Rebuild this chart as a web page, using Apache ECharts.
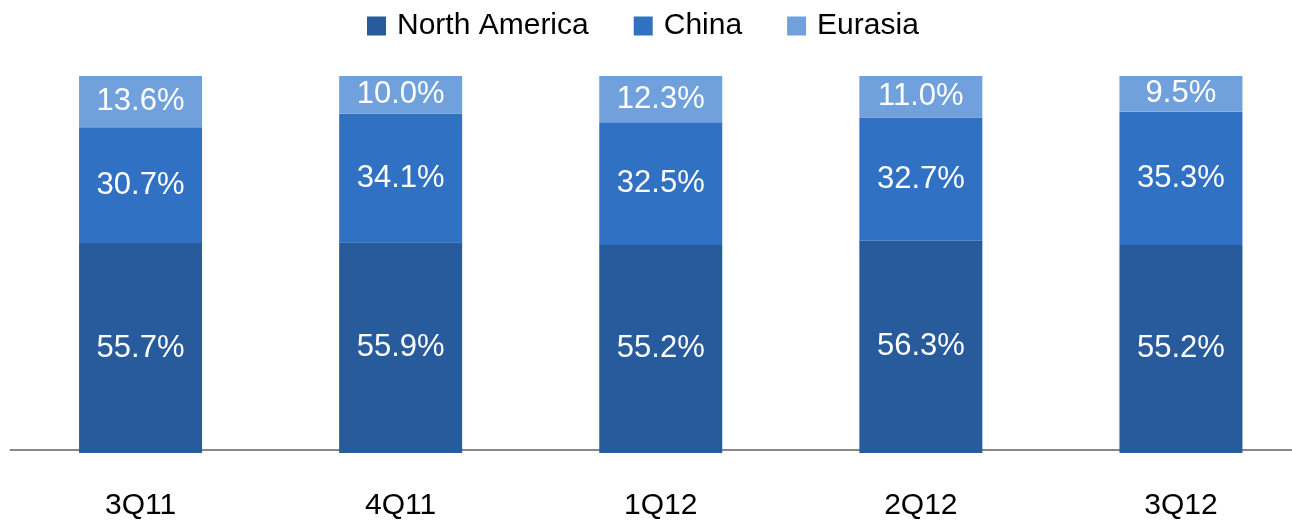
<!DOCTYPE html>
<html>
<head>
<meta charset="utf-8">
<script src="https://cdn.jsdelivr.net/npm/echarts@6/dist/echarts.min.js"></script>
<style>html,body{margin:0;padding:0;background:#fff;overflow:hidden;width:1292px;height:522px}#c{width:1311px;height:522px}</style>
</head>
<body>
<div id="c"></div>
<script>
const categories = ['3Q11', '4Q11', '1Q12', '2Q12', '3Q12'];
const northAmerica = [55.7, 55.9, 55.2, 56.3, 55.2];
const china = [30.7, 34.1, 32.5, 32.7, 35.3];
const eurasia = [13.6, 10.0, 12.3, 11.0, 9.5];
const seriesNames = ['North America', 'China', 'Eurasia'];
const colors = ['#285b9b', '#3171c4', '#70a1dc'];

const FONT = '"Liberation Sans", Arial, sans-serif';
const chart = echarts.init(document.getElementById('c'), null, {renderer: 'canvas'});
const label = {
  show: true, position: 'inside', color: '#fff', fontFamily: FONT, fontSize: 31,
  formatter: p => p.value.toFixed(1) + '%'
};
const mk = (name, data, color) => ({
  name, type: 'bar', stack: 'total', data, barWidth: 123,
  itemStyle: {color}, label, emphasis: {disabled: true}
});
chart.setOption({
  animation: false,
  color: colors,
  legend: {
    top: 6, left: 362, icon: 'rect', itemWidth: 19, itemHeight: 19, itemGap: 45,
    textStyle: {fontFamily: FONT, fontSize: 30, color: '#000', padding: [0, 0, 0, 6]},
    data: seriesNames
  },
  grid: {left: 10.5, right: 0, top: 76, bottom: 69, containLabel: false},
  xAxis: {
    type: 'category', data: categories, offset: -3,
    axisLine: {lineStyle: {color: '#888', width: 2}},
    axisTick: {show: false},
    axisLabel: {color: '#000', fontFamily: FONT, fontSize: 30, margin: 41}
  },
  yAxis: {type: 'value', min: 0, max: 100, show: false, splitLine: {show: false}},
  series: [
    mk(seriesNames[0], northAmerica, colors[0]),
    mk(seriesNames[1], china, colors[1]),
    mk(seriesNames[2], eurasia, colors[2])
  ]
});
</script>
</body>
</html>
